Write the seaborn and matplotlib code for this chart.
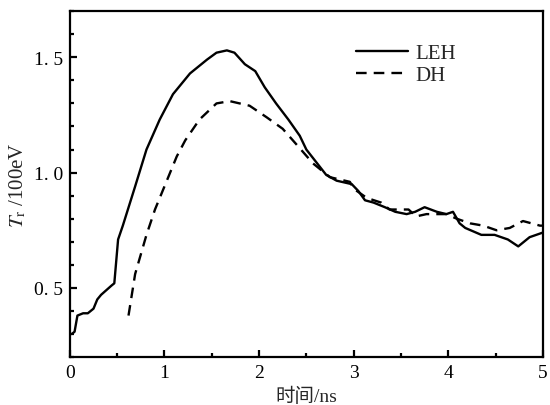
import numpy as np
import pandas as pd
import matplotlib
matplotlib.use("Agg")
import matplotlib.pyplot as plt
import seaborn as sns
from matplotlib.ticker import MultipleLocator

# LEH curve
leh_t = [0.02, 0.05, 0.08, 0.14, 0.19, 0.25, 0.29, 0.33, 0.44, 0.47, 0.51, 0.56,
         0.69, 0.81, 0.95, 1.09, 1.27, 1.45, 1.55, 1.66, 1.74, 1.85, 1.96, 2.06,
         2.18, 2.31, 2.43, 2.50, 2.71, 2.82, 2.98, 3.05, 3.12, 3.21, 3.33, 3.44,
         3.56, 3.65, 3.75, 3.88, 3.98, 4.05, 4.12, 4.18, 4.35, 4.49, 4.63, 4.74,
         4.86, 5.00]
leh_tr = [0.30, 0.31, 0.38, 0.39, 0.39, 0.41, 0.45, 0.47, 0.51, 0.52, 0.71, 0.77,
          0.94, 1.10, 1.23, 1.34, 1.43, 1.49, 1.52, 1.53, 1.52, 1.47, 1.44, 1.37,
          1.30, 1.23, 1.16, 1.10, 0.99, 0.965, 0.95, 0.92, 0.88, 0.87, 0.85, 0.83,
          0.82, 0.83, 0.85, 0.83, 0.82, 0.83, 0.78, 0.76, 0.73, 0.73, 0.71, 0.68,
          0.72, 0.74]

# DH curve
dh_t = [0.62, 0.69, 0.81, 0.90, 0.99, 1.13, 1.22, 1.37, 1.55, 1.69, 1.90, 2.08,
        2.25, 2.40, 2.57, 2.75, 2.96, 3.00, 3.14, 3.29, 3.38, 3.58, 3.66, 3.77,
        3.98, 4.09, 4.23, 4.37, 4.51, 4.65, 4.79, 4.97, 5.00]
dh_tr = [0.38, 0.56, 0.73, 0.84, 0.93, 1.07, 1.14, 1.23, 1.30, 1.31, 1.29, 1.24,
         1.19, 1.12, 1.04, 0.98, 0.96, 0.93, 0.89, 0.87, 0.84, 0.84, 0.81, 0.82,
         0.82, 0.80, 0.78, 0.77, 0.75, 0.76, 0.79, 0.77, 0.77]

ytick_vals = [0.5, 1.0, 1.5]
ytick_text = ['0. 5', '1. 0', '1. 5']

sns.set_style("ticks")
plt.rcParams['font.family'] = ['Liberation Serif', 'Noto Sans CJK SC']
plt.rcParams['mathtext.fontset'] = 'stix'

fig = plt.figure(figsize=(5.5, 4.06), dpi=100)
ax = fig.add_axes([0.127, 0.118, 0.86, 0.852])

sns.lineplot(x=leh_t, y=leh_tr, ax=ax, color='black', lw=1.7, sort=False, label='LEH')
sns.lineplot(x=dh_t, y=dh_tr, ax=ax, color='black', lw=1.7, sort=False, label='DH')
ax.lines[1].set_dashes((4.5, 3))

ax.set_xlim(0, 5)
ax.set_ylim(0.2, 1.7)
ax.set_xticks([0, 1, 2, 3, 4, 5])
ax.set_yticks(ytick_vals)
ax.set_yticklabels(ytick_text)
ax.xaxis.set_minor_locator(MultipleLocator(0.5))
ax.yaxis.set_minor_locator(MultipleLocator(0.1))
ax.tick_params(which='both', direction='in', labelsize=14, width=1.6, colors='black')
ax.tick_params(which='major', length=5, pad=5)
ax.tick_params(which='minor', length=3)
for s in ax.spines.values():
    s.set_linewidth(1.6)
    s.set_color('black')

ax.set_xlabel('时间/ns', fontsize=14, labelpad=4)
ax.set_ylabel(r'$T_{\rm r}$ /100eV', fontsize=15, labelpad=4)

ax.legend(loc='upper left', bbox_to_anchor=(0.565, 0.96), frameon=False, fontsize=15,
          handlelength=2.5, handletextpad=0.35, labelspacing=0.1)

fig.savefig('out.png', dpi=100)
